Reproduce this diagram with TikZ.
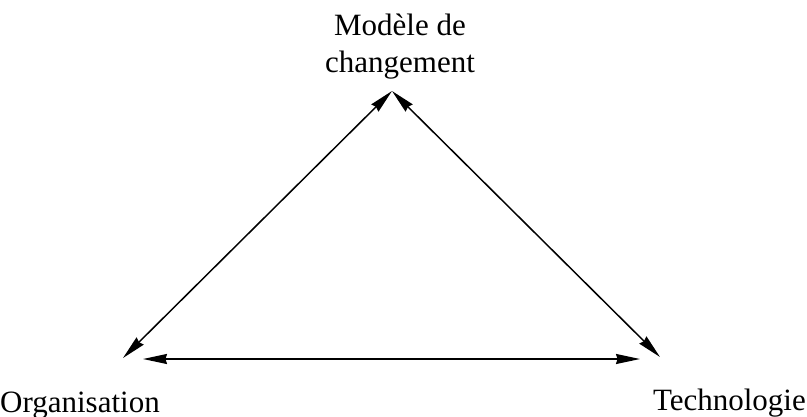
\documentclass[tikz,border=0pt]{standalone}
\usepackage{fontspec}
\setmainfont{Liberation Serif}
\usetikzlibrary{arrows.meta}
\begin{document}
\begin{tikzpicture}[x=1pt,y=-1pt,
  lbl/.style={inner sep=0pt, anchor=base, font=\fontsize{31}{37}\selectfont},
  tip/.tip={Stealth[length=24pt,width=10pt,inset=1.5pt]},
  link/.style={line width=1.5pt, tip-tip}]
\useasboundingbox (0,0) rectangle (807,416);
\node[lbl, align=center] (mod) at (400,72) {Modèle de\\changement};
\node[lbl, anchor=base west] (org) at (0,412) {Organisation};
\node[lbl, anchor=base east] (tech) at (806,410) {Technologie};
\coordinate (apex) at (392,91);
\coordinate (ol) at (123,358);
\coordinate (tr) at (660,357);
\coordinate (bl) at (143,359);
\coordinate (br) at (640,359);
\draw[link] (ol) -- (apex);
\draw[link] (apex) -- (tr);
\draw[link] (bl) -- (br);
\end{tikzpicture}
\end{document}
